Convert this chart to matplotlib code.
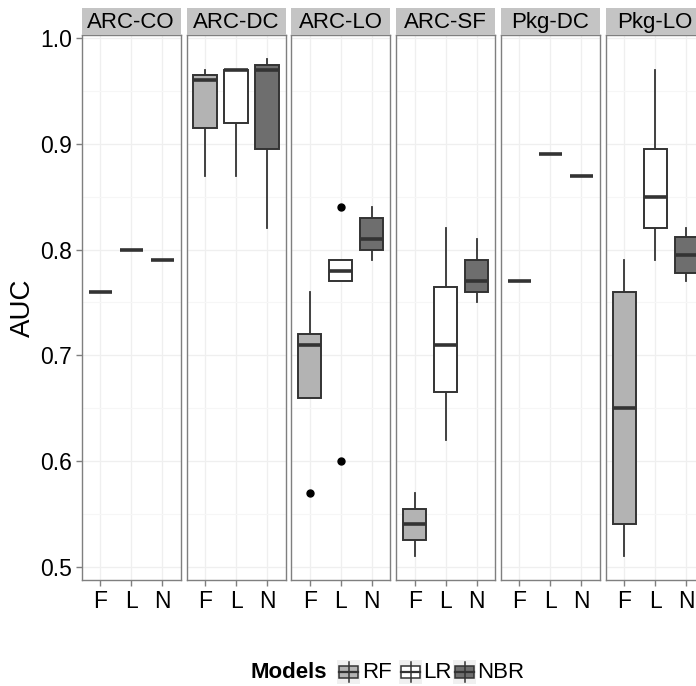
import matplotlib
matplotlib.use("Agg")
import matplotlib.pyplot as plt
from matplotlib.patches import Rectangle
from matplotlib.lines import Line2D

plt.rcParams['font.family'] = ['Liberation Sans', 'DejaVu Sans']

panels = ["ARC-CO", "ARC-DC", "ARC-LO", "ARC-SF", "Pkg-DC", "Pkg-LO"]
models = ["F", "L", "N"]
legend_names = ["RF", "LR", "NBR"]
fills = ["#b3b3b3", "#ffffff", "#6e6e6e"]

# box stats per model, one value per panel
rf_lo = [0.76, 0.87, 0.66, 0.51, 0.77, 0.51]
rf_q1 = [0.76, 0.915, 0.66, 0.525, 0.77, 0.54]
rf_med = [0.76, 0.96, 0.71, 0.54, 0.77, 0.65]
rf_q3 = [0.76, 0.965, 0.72, 0.555, 0.77, 0.76]
rf_hi = [0.76, 0.97, 0.76, 0.57, 0.77, 0.79]
rf_out = [[], [], [0.57], [], [], []]

lr_lo = [0.80, 0.87, 0.77, 0.62, 0.89, 0.79]
lr_q1 = [0.80, 0.92, 0.77, 0.665, 0.89, 0.82]
lr_med = [0.80, 0.97, 0.78, 0.71, 0.89, 0.85]
lr_q3 = [0.80, 0.97, 0.79, 0.765, 0.89, 0.895]
lr_hi = [0.80, 0.97, 0.79, 0.82, 0.89, 0.97]
lr_out = [[], [], [0.84, 0.60], [], [], []]

nb_lo = [0.79, 0.82, 0.79, 0.75, 0.87, 0.77]
nb_q1 = [0.79, 0.895, 0.80, 0.76, 0.87, 0.778]
nb_med = [0.79, 0.97, 0.81, 0.77, 0.87, 0.795]
nb_q3 = [0.79, 0.975, 0.83, 0.79, 0.87, 0.812]
nb_hi = [0.79, 0.98, 0.84, 0.81, 0.87, 0.82]
nb_out = [[], [], [], [], [], []]

stats_by_model = [
    (rf_lo, rf_q1, rf_med, rf_q3, rf_hi, rf_out),
    (lr_lo, lr_q1, lr_med, lr_q3, lr_hi, lr_out),
    (nb_lo, nb_q1, nb_med, nb_q3, nb_hi, nb_out),
]

W, H = 696, 686
fig = plt.figure(figsize=(W / 100, H / 100), dpi=100)

px_left, pitch, pw = 81.7, 104.8, 99.0
p_top, p_bot = 35.0, 580.0
strip_h = 27.0
edge = "#333333"
border = "#7f7f7f"

for i, name in enumerate(panels):
    left = px_left + i * pitch
    ax = fig.add_axes([left / W, (H - p_bot) / H, pw / W, (p_bot - p_top) / H])
    bxp_stats = []
    for m, (lo, q1, med, q3, hi, out) in enumerate(stats_by_model):
        bxp_stats.append(dict(whislo=lo[i], q1=q1[i], med=med[i], q3=q3[i],
                              whishi=hi[i], fliers=out[i], label=models[m]))
    parts = ax.bxp(bxp_stats, positions=[1, 2, 3], widths=0.75, patch_artist=True,
                   showcaps=False,
                   boxprops=dict(edgecolor=edge, linewidth=1.4),
                   whiskerprops=dict(color=edge, linewidth=1.3),
                   medianprops=dict(color=edge, linewidth=2.6, solid_capstyle='butt'),
                   flierprops=dict(marker='o', markerfacecolor='black',
                                   markeredgecolor='black', markersize=5))
    for b, c in zip(parts['boxes'], fills):
        b.set_facecolor(c)
        b.set_zorder(3)
    for ln in parts['medians']:
        ln.set_zorder(4)
    for ln in parts['whiskers']:
        ln.set_zorder(2)

    ax.set_xlim(0.4, 3.6)
    ax.set_ylim(0.4875, 1.003)
    ax.set_yticks([0.5, 0.6, 0.7, 0.8, 0.9, 1.0])
    ax.set_yticks([0.55, 0.65, 0.75, 0.85, 0.95], minor=True)
    ax.set_xticks([1, 2, 3])
    ax.set_xticklabels(models, fontsize=16.5)
    ax.grid(True, which='major', color='#efefef', linewidth=0.9, zorder=0)
    ax.grid(True, which='minor', axis='y', color='#f6f6f6', linewidth=0.8, zorder=0)
    ax.set_axisbelow(True)
    ax.tick_params(axis='both', which='major', length=4, width=1, color=border,
                   labelcolor='black', pad=3)
    ax.tick_params(axis='y', which='minor', length=0)
    for s in ax.spines.values():
        s.set_color(border)
        s.set_linewidth(1.0)
    if i == 0:
        ax.set_yticklabels(["0.5", "0.6", "0.7", "0.8", "0.9", "1.0"], fontsize=16.5)
    else:
        ax.tick_params(axis='y', which='both', left=False, labelleft=False)

    sax = fig.add_axes([left / W, (H - p_top + 0.5) / H, pw / W, strip_h / H])
    sax.set_facecolor("#c4c4c4")
    sax.set_xticks([])
    sax.set_yticks([])
    for s in sax.spines.values():
        s.set_visible(False)
    sax.text(0.5, 0.45, name, ha='center', va='center', fontsize=16,
             transform=sax.transAxes)

fig.text(23 / W, 1 - 308 / H, "AUC", rotation=90, fontsize=20,
         ha='center', va='center')

# legend drawn in a pixel-coordinate overlay
lax = fig.add_axes([0, 0, 1, 1], facecolor='none')
lax.set_xlim(0, W)
lax.set_ylim(H, 0)
lax.axis('off')
ly = 672
lax.text(251, ly, "Models", fontsize=16, fontweight='bold', va='center', ha='left')
key_x = [337, 399, 453]
txt_x = [362, 423, 477]
for kx, tx, c, nm in zip(key_x, txt_x, fills, legend_names):
    lax.add_patch(Rectangle((kx, ly - 12), 23, 24, facecolor='#f0f0f0', edgecolor='none'))
    lax.add_line(Line2D([kx + 11.5, kx + 11.5], [ly - 10, ly + 10], color=edge, lw=1.1))
    lax.add_patch(Rectangle((kx + 2, ly - 6), 19, 12, facecolor=c, edgecolor=edge, lw=1.1))
    lax.add_line(Line2D([kx + 2, kx + 21], [ly, ly], color=edge, lw=1.6))
    lax.text(tx, ly, nm, fontsize=16, va='center', ha='left')

fig.savefig("out.png", dpi=100)
